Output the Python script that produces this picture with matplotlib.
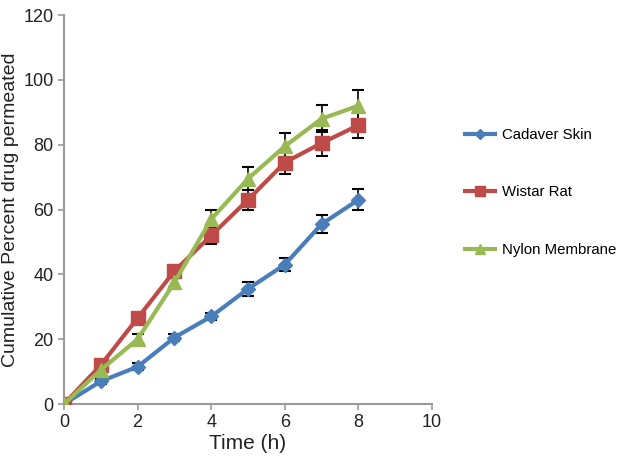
import matplotlib
matplotlib.use("Agg")
import matplotlib.pyplot as plt

plt.rcParams['font.family'] = ['Liberation Sans', 'DejaVu Sans']

time_h = [0, 1, 2, 3, 4, 5, 6, 7, 8]
cadaver = [0, 7, 11.5, 20.5, 27, 35.5, 43, 55.5, 63]
cadaver_err = [0, 0.8, 1.0, 1.0, 1.2, 2.2, 2.0, 2.8, 3.2]
wistar = [0, 12, 26.5, 41, 52, 63, 74.5, 80.5, 86]
wistar_err = [0, 1.0, 1.2, 1.5, 2.5, 3.0, 3.5, 4.0, 4.0]
nylon = [0, 10.5, 20, 37.5, 57, 69.5, 79.5, 88, 92]
nylon_err = [0, 1.0, 1.5, 1.5, 3.0, 3.5, 4.0, 4.2, 4.8]

labels = ["Cadaver Skin", "Wistar Rat", "Nylon Membrane"]
colors = ["#4a7ebb", "#be4b48", "#98b954"]
markers = ["D", "s", "^"]
msizes = [7, 10, 10]

fig = plt.figure(figsize=(6.25, 4.58), dpi=100)
ax = fig.add_axes([0.1024, 0.1179, 0.5888, 0.8493])

series = [(cadaver, cadaver_err), (wistar, wistar_err), (nylon, nylon_err)]
handles = []
for (vals, errs), lab, c, m, ms in zip(series, labels, colors, markers, msizes):
    ax.errorbar(time_h, vals, yerr=errs, fmt='none', ecolor='black', elinewidth=1.2,
                capsize=4, capthick=1.5, zorder=2)
    h, = ax.plot(time_h, vals, color=c, marker=m, markersize=ms, linewidth=3,
                 label=lab, zorder=3)
    handles.append(h)

ax.set_xlim(0, 10)
ax.set_ylim(0, 120)
ax.set_xticks([0, 2, 4, 6, 8, 10])
ax.set_yticks([0, 20, 40, 60, 80, 100, 120])
for s in ['top', 'right']:
    ax.spines[s].set_visible(False)
for s in ['left', 'bottom']:
    ax.spines[s].set_color('#9a9a9a')
    ax.spines[s].set_linewidth(1.5)
ax.tick_params(axis='both', colors='#9a9a9a', labelcolor='#222222', labelsize=13,
               length=4, width=1.2)
ax.set_xlabel("Time (h)", fontsize=15, color='#222222', labelpad=2)
ax.set_ylabel("Cumulative Percent drug permeated", fontsize=14, color='#222222', labelpad=3)

leg = fig.legend(handles=handles, labels=labels, loc='upper left',
                 bbox_to_anchor=(0.722, 0.75), frameon=False, fontsize=10.8,
                 labelspacing=2.9, handlelength=2.0, handletextpad=0.5,
                 markerscale=0.7)

fig.savefig("out.png", dpi=100)
